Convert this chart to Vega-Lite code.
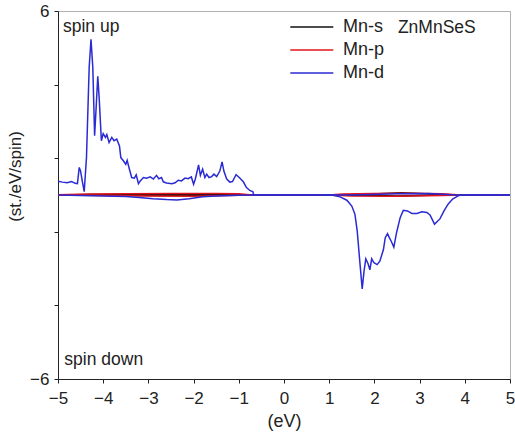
{
  "$schema": "https://vega.github.io/schema/vega-lite/v6.json",
  "width": 452,
  "height": 368,
  "autosize": {"type": "none"},
  "padding": {"left": 58, "top": 11, "right": 5, "bottom": 60},
  "background": "white",
  "config": {
    "view": {"stroke": "#b0b0b0", "strokeWidth": 1},
    "font": "Liberation Sans",
    "axis": {"grid": false, "domainColor": "#222", "tickColor": "#222", "labelColor": "#222", "titleColor": "#222", "labelFont": "Liberation Sans", "titleFont": "Liberation Sans", "titleFontWeight": "normal", "labelFontSize": 17, "titleFontSize": 17}
  },
  "datasets": {
    "dos": [
      {"e": -5.0, "dos": 0.0, "orb": "Mn-s", "spin": "up"},
      {"e": -4.3, "dos": 0.02, "orb": "Mn-s", "spin": "up"},
      {"e": -3.0, "dos": 0.02, "orb": "Mn-s", "spin": "up"},
      {"e": -2.0, "dos": 0.02, "orb": "Mn-s", "spin": "up"},
      {"e": -0.7, "dos": 0.0, "orb": "Mn-s", "spin": "up"},
      {"e": 1.5, "dos": 0.0, "orb": "Mn-s", "spin": "up"},
      {"e": 2.2, "dos": 0.05, "orb": "Mn-s", "spin": "up"},
      {"e": 2.6, "dos": 0.07, "orb": "Mn-s", "spin": "up"},
      {"e": 3.0, "dos": 0.05, "orb": "Mn-s", "spin": "up"},
      {"e": 3.6, "dos": 0.0, "orb": "Mn-s", "spin": "up"},
      {"e": 5.0, "dos": 0.0, "orb": "Mn-s", "spin": "up"},
      {"e": -5.0, "dos": 0.0, "orb": "Mn-s", "spin": "down"},
      {"e": -3.0, "dos": -0.02, "orb": "Mn-s", "spin": "down"},
      {"e": -2.0, "dos": -0.02, "orb": "Mn-s", "spin": "down"},
      {"e": -0.7, "dos": 0.0, "orb": "Mn-s", "spin": "down"},
      {"e": 1.5, "dos": 0.0, "orb": "Mn-s", "spin": "down"},
      {"e": 2.5, "dos": -0.03, "orb": "Mn-s", "spin": "down"},
      {"e": 3.5, "dos": 0.0, "orb": "Mn-s", "spin": "down"},
      {"e": 5.0, "dos": 0.0, "orb": "Mn-s", "spin": "down"},
      {"e": -5.0, "dos": 0.01, "orb": "Mn-p", "spin": "up"},
      {"e": -4.3, "dos": 0.03, "orb": "Mn-p", "spin": "up"},
      {"e": -3.5, "dos": 0.04, "orb": "Mn-p", "spin": "up"},
      {"e": -2.5, "dos": 0.05, "orb": "Mn-p", "spin": "up"},
      {"e": -1.5, "dos": 0.05, "orb": "Mn-p", "spin": "up"},
      {"e": -1.0, "dos": 0.04, "orb": "Mn-p", "spin": "up"},
      {"e": -0.7, "dos": 0.0, "orb": "Mn-p", "spin": "up"},
      {"e": 1.0, "dos": 0.0, "orb": "Mn-p", "spin": "up"},
      {"e": 1.3, "dos": 0.03, "orb": "Mn-p", "spin": "up"},
      {"e": 2.0, "dos": 0.05, "orb": "Mn-p", "spin": "up"},
      {"e": 2.8, "dos": 0.06, "orb": "Mn-p", "spin": "up"},
      {"e": 3.5, "dos": 0.04, "orb": "Mn-p", "spin": "up"},
      {"e": 3.9, "dos": 0.0, "orb": "Mn-p", "spin": "up"},
      {"e": 5.0, "dos": 0.0, "orb": "Mn-p", "spin": "up"},
      {"e": -5.0, "dos": 0.0, "orb": "Mn-p", "spin": "down"},
      {"e": -3.0, "dos": -0.03, "orb": "Mn-p", "spin": "down"},
      {"e": -2.0, "dos": -0.04, "orb": "Mn-p", "spin": "down"},
      {"e": -1.0, "dos": -0.01, "orb": "Mn-p", "spin": "down"},
      {"e": -0.6, "dos": 0.0, "orb": "Mn-p", "spin": "down"},
      {"e": 1.0, "dos": 0.0, "orb": "Mn-p", "spin": "down"},
      {"e": 1.5, "dos": -0.03, "orb": "Mn-p", "spin": "down"},
      {"e": 2.5, "dos": -0.04, "orb": "Mn-p", "spin": "down"},
      {"e": 3.5, "dos": -0.02, "orb": "Mn-p", "spin": "down"},
      {"e": 3.9, "dos": 0.0, "orb": "Mn-p", "spin": "down"},
      {"e": 5.0, "dos": 0.0, "orb": "Mn-p", "spin": "down"},
      {"e": -5.0, "dos": 0.45, "orb": "Mn-d", "spin": "up"},
      {"e": -4.9, "dos": 0.42, "orb": "Mn-d", "spin": "up"},
      {"e": -4.8, "dos": 0.4, "orb": "Mn-d", "spin": "up"},
      {"e": -4.7, "dos": 0.44, "orb": "Mn-d", "spin": "up"},
      {"e": -4.62, "dos": 0.38, "orb": "Mn-d", "spin": "up"},
      {"e": -4.57, "dos": 0.37, "orb": "Mn-d", "spin": "up"},
      {"e": -4.53, "dos": 0.9, "orb": "Mn-d", "spin": "up"},
      {"e": -4.5, "dos": 0.78, "orb": "Mn-d", "spin": "up"},
      {"e": -4.46, "dos": 0.43, "orb": "Mn-d", "spin": "up"},
      {"e": -4.42, "dos": 0.11, "orb": "Mn-d", "spin": "up"},
      {"e": -4.37, "dos": 1.22, "orb": "Mn-d", "spin": "up"},
      {"e": -4.31, "dos": 4.17, "orb": "Mn-d", "spin": "up"},
      {"e": -4.27, "dos": 5.08, "orb": "Mn-d", "spin": "up"},
      {"e": -4.23, "dos": 4.17, "orb": "Mn-d", "spin": "up"},
      {"e": -4.19, "dos": 1.93, "orb": "Mn-d", "spin": "up"},
      {"e": -4.16, "dos": 2.75, "orb": "Mn-d", "spin": "up"},
      {"e": -4.12, "dos": 3.87, "orb": "Mn-d", "spin": "up"},
      {"e": -4.09, "dos": 3.19, "orb": "Mn-d", "spin": "up"},
      {"e": -4.04, "dos": 1.77, "orb": "Mn-d", "spin": "up"},
      {"e": -4.0, "dos": 2.0, "orb": "Mn-d", "spin": "up"},
      {"e": -3.95, "dos": 1.88, "orb": "Mn-d", "spin": "up"},
      {"e": -3.92, "dos": 1.97, "orb": "Mn-d", "spin": "up"},
      {"e": -3.87, "dos": 1.71, "orb": "Mn-d", "spin": "up"},
      {"e": -3.81, "dos": 1.88, "orb": "Mn-d", "spin": "up"},
      {"e": -3.76, "dos": 1.77, "orb": "Mn-d", "spin": "up"},
      {"e": -3.7, "dos": 1.82, "orb": "Mn-d", "spin": "up"},
      {"e": -3.64, "dos": 1.6, "orb": "Mn-d", "spin": "up"},
      {"e": -3.61, "dos": 1.22, "orb": "Mn-d", "spin": "up"},
      {"e": -3.55, "dos": 1.11, "orb": "Mn-d", "spin": "up"},
      {"e": -3.5, "dos": 1.0, "orb": "Mn-d", "spin": "up"},
      {"e": -3.47, "dos": 1.13, "orb": "Mn-d", "spin": "up"},
      {"e": -3.42, "dos": 0.84, "orb": "Mn-d", "spin": "up"},
      {"e": -3.37, "dos": 0.57, "orb": "Mn-d", "spin": "up"},
      {"e": -3.31, "dos": 0.55, "orb": "Mn-d", "spin": "up"},
      {"e": -3.27, "dos": 0.66, "orb": "Mn-d", "spin": "up"},
      {"e": -3.22, "dos": 0.37, "orb": "Mn-d", "spin": "up"},
      {"e": -3.18, "dos": 0.46, "orb": "Mn-d", "spin": "up"},
      {"e": -3.11, "dos": 0.57, "orb": "Mn-d", "spin": "up"},
      {"e": -3.04, "dos": 0.55, "orb": "Mn-d", "spin": "up"},
      {"e": -2.96, "dos": 0.59, "orb": "Mn-d", "spin": "up"},
      {"e": -2.89, "dos": 0.52, "orb": "Mn-d", "spin": "up"},
      {"e": -2.82, "dos": 0.64, "orb": "Mn-d", "spin": "up"},
      {"e": -2.77, "dos": 0.53, "orb": "Mn-d", "spin": "up"},
      {"e": -2.71, "dos": 0.57, "orb": "Mn-d", "spin": "up"},
      {"e": -2.67, "dos": 0.43, "orb": "Mn-d", "spin": "up"},
      {"e": -2.6, "dos": 0.39, "orb": "Mn-d", "spin": "up"},
      {"e": -2.48, "dos": 0.37, "orb": "Mn-d", "spin": "up"},
      {"e": -2.41, "dos": 0.4, "orb": "Mn-d", "spin": "up"},
      {"e": -2.34, "dos": 0.48, "orb": "Mn-d", "spin": "up"},
      {"e": -2.27, "dos": 0.46, "orb": "Mn-d", "spin": "up"},
      {"e": -2.19, "dos": 0.55, "orb": "Mn-d", "spin": "up"},
      {"e": -2.12, "dos": 0.53, "orb": "Mn-d", "spin": "up"},
      {"e": -2.05, "dos": 0.59, "orb": "Mn-d", "spin": "up"},
      {"e": -2.0, "dos": 0.35, "orb": "Mn-d", "spin": "up"},
      {"e": -1.96, "dos": 0.53, "orb": "Mn-d", "spin": "up"},
      {"e": -1.89, "dos": 0.98, "orb": "Mn-d", "spin": "up"},
      {"e": -1.85, "dos": 0.64, "orb": "Mn-d", "spin": "up"},
      {"e": -1.8, "dos": 0.84, "orb": "Mn-d", "spin": "up"},
      {"e": -1.75, "dos": 0.57, "orb": "Mn-d", "spin": "up"},
      {"e": -1.71, "dos": 0.68, "orb": "Mn-d", "spin": "up"},
      {"e": -1.66, "dos": 0.57, "orb": "Mn-d", "spin": "up"},
      {"e": -1.6, "dos": 0.6, "orb": "Mn-d", "spin": "up"},
      {"e": -1.55, "dos": 0.68, "orb": "Mn-d", "spin": "up"},
      {"e": -1.49, "dos": 0.6, "orb": "Mn-d", "spin": "up"},
      {"e": -1.42, "dos": 0.78, "orb": "Mn-d", "spin": "up"},
      {"e": -1.37, "dos": 1.08, "orb": "Mn-d", "spin": "up"},
      {"e": -1.33, "dos": 0.78, "orb": "Mn-d", "spin": "up"},
      {"e": -1.27, "dos": 0.53, "orb": "Mn-d", "spin": "up"},
      {"e": -1.2, "dos": 0.42, "orb": "Mn-d", "spin": "up"},
      {"e": -1.14, "dos": 0.44, "orb": "Mn-d", "spin": "up"},
      {"e": -1.06, "dos": 0.66, "orb": "Mn-d", "spin": "up"},
      {"e": -0.99, "dos": 0.57, "orb": "Mn-d", "spin": "up"},
      {"e": -0.9, "dos": 0.43, "orb": "Mn-d", "spin": "up"},
      {"e": -0.83, "dos": 0.24, "orb": "Mn-d", "spin": "up"},
      {"e": -0.75, "dos": 0.14, "orb": "Mn-d", "spin": "up"},
      {"e": -0.69, "dos": 0.11, "orb": "Mn-d", "spin": "up"},
      {"e": -0.67, "dos": 0.0, "orb": "Mn-d", "spin": "up"},
      {"e": 1.5, "dos": 0.0, "orb": "Mn-d", "spin": "up"},
      {"e": 2.5, "dos": 0.04, "orb": "Mn-d", "spin": "up"},
      {"e": 3.2, "dos": 0.05, "orb": "Mn-d", "spin": "up"},
      {"e": 3.8, "dos": 0.0, "orb": "Mn-d", "spin": "up"},
      {"e": 5.0, "dos": 0.0, "orb": "Mn-d", "spin": "up"},
      {"e": -5.0, "dos": 0.0, "orb": "Mn-d", "spin": "down"},
      {"e": -4.5, "dos": -0.02, "orb": "Mn-d", "spin": "down"},
      {"e": -4.0, "dos": -0.03, "orb": "Mn-d", "spin": "down"},
      {"e": -3.5, "dos": -0.05, "orb": "Mn-d", "spin": "down"},
      {"e": -3.2, "dos": -0.08, "orb": "Mn-d", "spin": "down"},
      {"e": -2.9, "dos": -0.12, "orb": "Mn-d", "spin": "down"},
      {"e": -2.6, "dos": -0.15, "orb": "Mn-d", "spin": "down"},
      {"e": -2.37, "dos": -0.16, "orb": "Mn-d", "spin": "down"},
      {"e": -2.1, "dos": -0.12, "orb": "Mn-d", "spin": "down"},
      {"e": -1.8, "dos": -0.06, "orb": "Mn-d", "spin": "down"},
      {"e": -1.5, "dos": -0.03, "orb": "Mn-d", "spin": "down"},
      {"e": -1.0, "dos": -0.01, "orb": "Mn-d", "spin": "down"},
      {"e": -0.6, "dos": 0.0, "orb": "Mn-d", "spin": "down"},
      {"e": 1.05, "dos": 0.0, "orb": "Mn-d", "spin": "down"},
      {"e": 1.24, "dos": -0.06, "orb": "Mn-d", "spin": "down"},
      {"e": 1.39, "dos": -0.17, "orb": "Mn-d", "spin": "down"},
      {"e": 1.5, "dos": -0.36, "orb": "Mn-d", "spin": "down"},
      {"e": 1.57, "dos": -0.63, "orb": "Mn-d", "spin": "down"},
      {"e": 1.62, "dos": -1.18, "orb": "Mn-d", "spin": "down"},
      {"e": 1.67, "dos": -2.05, "orb": "Mn-d", "spin": "down"},
      {"e": 1.73, "dos": -3.06, "orb": "Mn-d", "spin": "down"},
      {"e": 1.77, "dos": -2.49, "orb": "Mn-d", "spin": "down"},
      {"e": 1.81, "dos": -2.08, "orb": "Mn-d", "spin": "down"},
      {"e": 1.86, "dos": -2.24, "orb": "Mn-d", "spin": "down"},
      {"e": 1.9, "dos": -2.44, "orb": "Mn-d", "spin": "down"},
      {"e": 1.94, "dos": -2.08, "orb": "Mn-d", "spin": "down"},
      {"e": 1.99, "dos": -2.21, "orb": "Mn-d", "spin": "down"},
      {"e": 2.06, "dos": -2.27, "orb": "Mn-d", "spin": "down"},
      {"e": 2.12, "dos": -2.16, "orb": "Mn-d", "spin": "down"},
      {"e": 2.2, "dos": -1.78, "orb": "Mn-d", "spin": "down"},
      {"e": 2.24, "dos": -1.39, "orb": "Mn-d", "spin": "down"},
      {"e": 2.29, "dos": -1.26, "orb": "Mn-d", "spin": "down"},
      {"e": 2.33, "dos": -1.39, "orb": "Mn-d", "spin": "down"},
      {"e": 2.37, "dos": -1.5, "orb": "Mn-d", "spin": "down"},
      {"e": 2.43, "dos": -1.7, "orb": "Mn-d", "spin": "down"},
      {"e": 2.49, "dos": -1.23, "orb": "Mn-d", "spin": "down"},
      {"e": 2.57, "dos": -0.74, "orb": "Mn-d", "spin": "down"},
      {"e": 2.64, "dos": -0.5, "orb": "Mn-d", "spin": "down"},
      {"e": 2.73, "dos": -0.52, "orb": "Mn-d", "spin": "down"},
      {"e": 2.83, "dos": -0.6, "orb": "Mn-d", "spin": "down"},
      {"e": 2.94, "dos": -0.6, "orb": "Mn-d", "spin": "down"},
      {"e": 3.05, "dos": -0.55, "orb": "Mn-d", "spin": "down"},
      {"e": 3.16, "dos": -0.57, "orb": "Mn-d", "spin": "down"},
      {"e": 3.23, "dos": -0.65, "orb": "Mn-d", "spin": "down"},
      {"e": 3.33, "dos": -0.95, "orb": "Mn-d", "spin": "down"},
      {"e": 3.38, "dos": -0.88, "orb": "Mn-d", "spin": "down"},
      {"e": 3.45, "dos": -0.78, "orb": "Mn-d", "spin": "down"},
      {"e": 3.54, "dos": -0.52, "orb": "Mn-d", "spin": "down"},
      {"e": 3.63, "dos": -0.3, "orb": "Mn-d", "spin": "down"},
      {"e": 3.73, "dos": -0.13, "orb": "Mn-d", "spin": "down"},
      {"e": 3.86, "dos": -0.02, "orb": "Mn-d", "spin": "down"},
      {"e": 3.97, "dos": 0.0, "orb": "Mn-d", "spin": "down"},
      {"e": 5.0, "dos": 0.0, "orb": "Mn-d", "spin": "down"}
    ],
    "labels": [
      {"lx": -4.89, "ly": 5.48, "txt": "spin up"},
      {"lx": -4.86, "ly": -5.38, "txt": "spin down"},
      {"lx": 2.52, "ly": 5.45, "txt": "ZnMnSeS"}
    ]
  },
  "layer": [
    {
      "data": {"name": "dos"},
      "mark": {"type": "line", "strokeWidth": 1.5, "interpolate": "linear"},
      "encoding": {
        "x": {"field": "e", "type": "quantitative", "scale": {"domain": [-5, 5], "nice": false, "zero": false},
          "axis": {"values": [-5, -4, -3, -2, -1, 0, 1, 2, 3, 4, 5], "title": "(eV)", "titleFontSize": 18, "tickSize": 4, "labelPadding": 7, "titlePadding": 6, "labelFlush": false, "labelOverlap": false, "domainWidth": 1}},
        "y": {"field": "dos", "type": "quantitative", "scale": {"domain": [-6, 6], "nice": false, "zero": false},
          "axis": {"values": [-6, -4.8, -3.6, -2.4, -1.2, 0, 1.2, 2.4, 3.6, 4.8, 6], "labelExpr": "abs(datum.value) == 6 || datum.value == 0 ? datum.label : ''", "labelOverlap": false, "title": "(st./eV/spin)", "tickSize": 4, "labelPadding": 5, "titlePadding": 5, "titleY": 165, "labelFlush": false, "domainWidth": 1}},
        "color": {"field": "orb", "type": "nominal", "sort": ["Mn-s", "Mn-p", "Mn-d"],
          "scale": {"domain": ["Mn-s", "Mn-p", "Mn-d"], "range": ["#111111", "#e3141b", "#2b2bd4"]},
          "legend": {"orient": "none", "legendX": 262, "legendY": 7, "title": null, "symbolType": "M-9,0H1", "symbolSize": 74, "symbolStrokeWidth": 1.5, "symbolFillColor": "transparent", "labelFontSize": 18, "labelFont": "Liberation Sans", "labelColor": "#222", "labelOffset": 5, "rowPadding": 5, "padding": 0}},
        "detail": {"field": "spin", "type": "nominal"}
      }
    },
    {
      "mark": {"type": "rule", "color": "#222", "strokeWidth": 1},
      "encoding": {"x": {"datum": 0}}
    },
    {
      "data": {"name": "labels"},
      "mark": {"type": "text", "align": "left", "baseline": "middle", "fontSize": 17.5, "font": "Liberation Sans", "color": "#222"},
      "encoding": {
        "x": {"field": "lx", "type": "quantitative"},
        "y": {"field": "ly", "type": "quantitative"},
        "text": {"field": "txt"}
      }
    }
  ]
}
